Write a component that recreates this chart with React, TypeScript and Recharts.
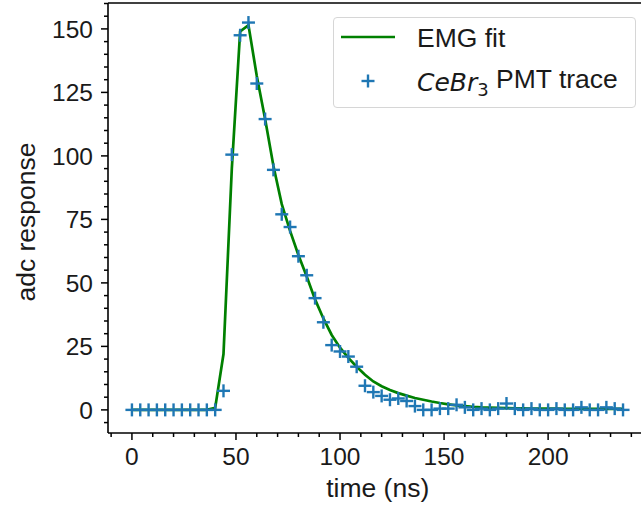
import React from 'react';
import {
  ComposedChart,
  Line,
  Scatter,
  XAxis,
  YAxis,
  ReferenceLine,
  Label,
} from 'recharts';

// sample times (ns)
const times = [
  0, 4, 8, 12, 16, 20, 24, 28, 32, 36, 40, 44, 48, 52, 56, 60, 64, 68, 72, 76,
  80, 84, 88, 92, 96, 100, 104, 108, 112, 116, 120, 124, 128, 132, 136, 140,
  144, 148, 152, 156, 160, 164, 168, 172, 176, 180, 184, 188, 192, 196, 200,
  204, 208, 212, 216, 220, 224, 228, 232, 236,
];

// CeBr3 PMT trace (adc)
const trace = [
  0, 0, 0, 0, 0, 0, 0, 0, 0, 0, 0, 7.5, 100.5, 147.5, 152.5, 128.5, 114.5,
  94.5, 77, 72, 60.5, 53, 44, 34.5, 25.5, 23, 21, 17, 9.5, 7, 5.5, 4, 4.5, 3.5,
  1.5, 0, 0, 0.5, 0.5, 2, 1, 0, 0.5, 0, 0.5, 2.5, 0.5, 0, 0.5, 0, 0, 0.5, 0, 0,
  1, 0, 0, 1, 0.5, 0,
];

// EMG fit
const fit = [
  0, 0, 0, 0, 0, 0, 0, 0, 0, 0, 0.8, 22, 95, 149, 151.5, 131.5, 114.5, 96, 81,
  70.5, 61, 52.5, 43.5, 36, 29.5, 24.5, 20.5, 17, 13.8, 11.2, 9.3, 7.8, 6.6,
  5.6, 4.7, 4, 3.3, 2.7, 2.2, 1.8, 1.5, 1.2, 1, 0.9, 0.8, 0.7, 0.6, 0.6, 0.5,
  0.5, 0.5, 0.5, 0.4, 0.4, 0.4, 0.4, 0.4, 0.4, 0.4, 0.4,
];

const xTicks = [
  -10, 0, 10, 20, 30, 40, 50, 60, 70, 80, 90, 100, 110, 120, 130, 140, 150, 160,
  170, 180, 190, 200, 210, 220, 230, 240,
];
const yTicks = [
  -5, 0, 5, 10, 15, 20, 25, 30, 35, 40, 45, 50, 55, 60, 65, 70, 75, 80, 85, 90,
  95, 100, 105, 110, 115, 120, 125, 130, 135, 140, 145, 150, 155, 160,
];

const data = times.map((t, i) => ({ t, trace: trace[i], fit: fit[i] }));

const FONT = '"Liberation Sans", Arial, sans-serif';
const MATH = '"DejaVu Sans", sans-serif';
const BLUE = '#1f77b4';
const GREEN = '#008000';
const INK = '#1a1a1a';
const TICK_FS = 24.5;
const LABEL_FS = 26.5;

function XTick({ x, y, payload }: any) {
  const v = payload.value;
  const major = v % 50 === 0;
  return (
    <g>
      <line x1={x} x2={x} y1={y} y2={y + (major ? 7 : 4)} stroke="#000" strokeWidth={1.5} />
      {major && (
        <text x={x} y={y + 14} dy="0.72em" textAnchor="middle" fontSize={TICK_FS} fontFamily={FONT} fill={INK}>
          {v}
        </text>
      )}
    </g>
  );
}

function YTick({ x, y, payload }: any) {
  const v = payload.value;
  const major = v % 25 === 0;
  return (
    <g>
      <line x1={x} x2={x - (major ? 7 : 4)} y1={y} y2={y} stroke="#000" strokeWidth={1.5} />
      {major && (
        <text x={x - 15} y={y} dy="0.36em" textAnchor="end" fontSize={TICK_FS} fontFamily={FONT} fill={INK}>
          {v}
        </text>
      )}
    </g>
  );
}

function Plus({ cx, cy }: any) {
  if (cx == null || cy == null) return null;
  const h = 6.5;
  return (
    <g stroke={BLUE} strokeWidth={2.4}>
      <line x1={cx - h} x2={cx + h} y1={cy} y2={cy} />
      <line x1={cx} x2={cx} y1={cy - h} y2={cy + h} />
    </g>
  );
}

function TraceLegend() {
  return (
    <div
      style={{
        position: 'absolute',
        left: 333,
        top: 17,
        width: 303,
        height: 91,
        boxSizing: 'border-box',
        border: '1px solid #d6d6d6',
        borderRadius: 4,
        background: 'rgba(255,255,255,0.8)',
      }}
    >
      <svg width={303} height={91} style={{ position: 'absolute', left: -1, top: -1 }}>
        <line x1={8} x2={62} y1={20} y2={20} stroke={GREEN} strokeWidth={2.7} />
        <Plus cx={35} cy={64} />
        <text x={84} y={20} dy="0.36em" fontSize={LABEL_FS} fontFamily={FONT} fill={INK}>
          EMG fit
        </text>
        <text x={84} y={64} dy="0.36em" fontSize={LABEL_FS} fontFamily={FONT} fill={INK}>
          <tspan fontStyle="italic" fontFamily={MATH} fontSize={25}>CeBr</tspan>
          <tspan fontFamily={MATH} fontSize={18} dy="0.3em">3</tspan>
          <tspan dy="-0.3em"> PMT trace</tspan>
        </text>
      </svg>
    </div>
  );
}

export default function App() {
  return (
    <div
      style={{
        position: 'fixed',
        left: 0,
        top: 0,
        width: 641,
        height: 511,
        overflow: 'hidden',
        background: '#fff',
      }}
    >
      <ComposedChart
        width={700}
        height={511}
        data={data}
        margin={{ top: 3, right: 52, bottom: 0, left: 0 }}
      >
        <XAxis
          type="number"
          dataKey="t"
          domain={[-11.5, 248]}
          allowDataOverflow
          ticks={xTicks}
          interval={0}
          tickSize={0}
          tickMargin={0}
          tickLine={false}
          tick={<XTick />}
          axisLine={{ stroke: '#000', strokeWidth: 1.6 }}
          height={78}
        >
          <Label
            content={() => (
              <text x={377.7} y={497} textAnchor="middle" fontSize={LABEL_FS} fontFamily={FONT} fill={INK}>
                time (ns)
              </text>
            )}
          />
        </XAxis>
        <YAxis
          type="number"
          domain={[-9.1, 160.2]}
          allowDataOverflow
          ticks={yTicks}
          interval={0}
          tickSize={0}
          tickMargin={0}
          tickLine={false}
          tick={<YTick />}
          axisLine={{ stroke: '#000', strokeWidth: 1.6 }}
          width={108}
        >
          <Label
            content={() => (
              <text
                x={25}
                y={222}
                transform="rotate(-90 25 222)"
                textAnchor="middle"
                dy="0.36em"
                fontSize={LABEL_FS}
                fontFamily={FONT}
                fill={INK}
              >
                adc response
              </text>
            )}
          />
        </YAxis>
        <ReferenceLine y={160.2} stroke="#000" strokeWidth={1.6} ifOverflow="visible" />
        <Scatter dataKey="trace" shape={<Plus />} isAnimationActive={false} />
        <Line
          type="linear"
          dataKey="fit"
          stroke={GREEN}
          strokeWidth={2.7}
          dot={false}
          activeDot={false}
          isAnimationActive={false}
        />
      </ComposedChart>
      <TraceLegend />
    </div>
  );
}
